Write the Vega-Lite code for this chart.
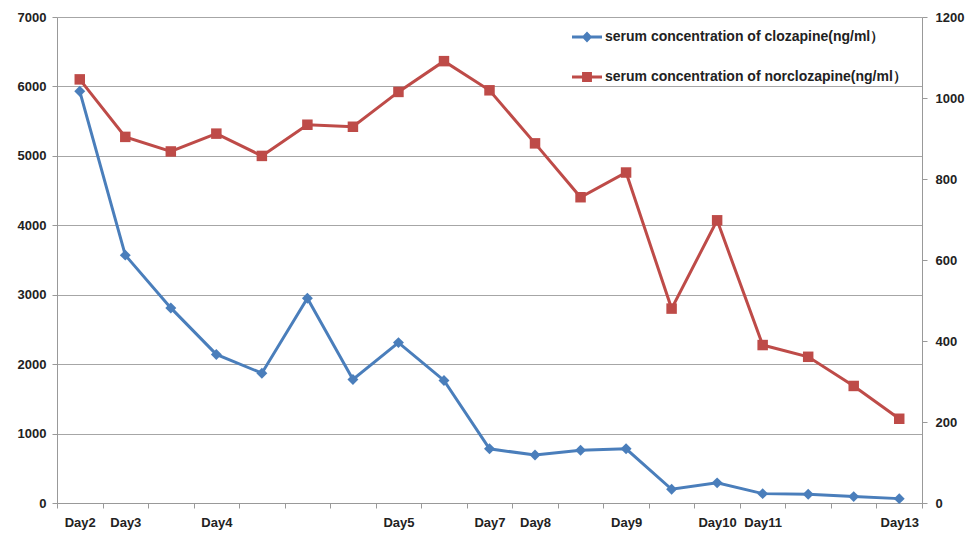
{
  "$schema": "https://vega.github.io/schema/vega-lite/v6.json",
  "width": 865,
  "height": 486,
  "autosize": {"type": "none"},
  "padding": {"left": 57, "top": 17, "right": 49, "bottom": 35},
  "background": "white",
  "config": {
    "view": {"stroke": null},
    "font": "Liberation Sans",
    "axis": {
      "labelFont": "Liberation Sans",
      "labelFontWeight": "bold",
      "labelFontSize": 13,
      "labelColor": "#222222",
      "domainColor": "#999999",
      "tickColor": "#999999",
      "tickSize": 5,
      "title": null
    }
  },
  "data": {
    "values": [
      {"t": "Day2", "cloz": 5930, "nor": 1046},
      {"t": "Day3", "cloz": 3570, "nor": 904},
      {"t": "s3", "cloz": 2810, "nor": 868},
      {"t": "Day4", "cloz": 2140, "nor": 912},
      {"t": "s5", "cloz": 1870, "nor": 857},
      {"t": "s6", "cloz": 2950, "nor": 934},
      {"t": "s7", "cloz": 1780, "nor": 929},
      {"t": "Day5", "cloz": 2310, "nor": 1015},
      {"t": "s9", "cloz": 1765, "nor": 1091},
      {"t": "Day7", "cloz": 780, "nor": 1019},
      {"t": "Day8", "cloz": 690, "nor": 888},
      {"t": "s12", "cloz": 760, "nor": 755},
      {"t": "Day9", "cloz": 780, "nor": 816},
      {"t": "s14", "cloz": 198, "nor": 480},
      {"t": "Day10", "cloz": 290, "nor": 698},
      {"t": "Day11", "cloz": 135, "nor": 390},
      {"t": "s17", "cloz": 125, "nor": 361},
      {"t": "s18", "cloz": 92, "nor": 289},
      {"t": "Day13", "cloz": 63, "nor": 208}
    ]
  },
  "encoding": {
    "x": {
      "field": "t",
      "type": "ordinal",
      "sort": null,
      "scale": {"type": "band", "paddingInner": 0, "paddingOuter": 0},
      "axis": {
        "labelAngle": 0,
        "labelExpr": "test(/^Day/, datum.value) ? datum.value : ''",
        "labelOverlap": false,
        "tickBand": "extent",
        "labelPadding": 8,
        "grid": false
      }
    }
  },
  "layer": [
    {
      "mark": {
        "type": "line",
        "strokeWidth": 3,
        "point": {"shape": "diamond", "size": 120, "filled": true, "opacity": 1}
      },
      "encoding": {
        "y": {
          "field": "cloz",
          "type": "quantitative",
          "scale": {"domain": [0, 7000], "nice": false},
          "axis": {
            "values": [0, 1000, 2000, 3000, 4000, 5000, 6000, 7000],
            "format": "d",
            "grid": true,
            "gridColor": "#A6A6A6",
            "labelPadding": 6
          }
        },
        "color": {
          "datum": "serum concentration of clozapine(ng/ml）",
          "type": "nominal",
          "scale": {
            "domain": ["serum concentration of clozapine(ng/ml）", "serum concentration of norclozapine(ng/ml）"],
            "range": ["#4A7EBB", "#BE4B48"]
          },
          "legend": {
            "title": null,
            "orient": "none",
            "legendX": 515,
            "legendY": 5,
            "padding": 0,
            "rowPadding": 18,
            "labelFont": "Liberation Sans",
            "labelFontSize": 14,
            "labelFontWeight": "bold",
            "labelColor": "#222222",
            "labelOffset": 3,
            "labelLimit": 0,
            "symbolSize": 900,
            "encode": {
              "symbols": {
                "update": {
                  "shape": {"signal": "datum.index === 0 ? 'M-1,-0.1H1V0.1H-1Z M0,-0.37L0.35,0L0,0.37L-0.35,0Z' : 'M-1,-0.1H1V0.1H-1Z M-0.33,-0.33H0.33V0.33H-0.33Z'"},
                  "fill": {"signal": "datum.index === 0 ? '#4A7EBB' : '#BE4B48'"},
                  "stroke": {"value": "transparent"},
                  "strokeWidth": {"value": 0},
                  "opacity": {"value": 1}
                }
              }
            }
          }
        }
      }
    },
    {
      "mark": {
        "type": "line",
        "strokeWidth": 3,
        "point": {"shape": "square", "size": 110, "filled": true, "opacity": 1}
      },
      "encoding": {
        "y": {
          "field": "nor",
          "type": "quantitative",
          "scale": {"domain": [0, 1200], "nice": false},
          "axis": {
            "orient": "right",
            "values": [0, 200, 400, 600, 800, 1000, 1200],
            "format": "d",
            "grid": false,
            "labelPadding": 8
          }
        },
        "color": {"datum": "serum concentration of norclozapine(ng/ml）", "type": "nominal"}
      }
    }
  ],
  "resolve": {"scale": {"y": "independent"}}
}
